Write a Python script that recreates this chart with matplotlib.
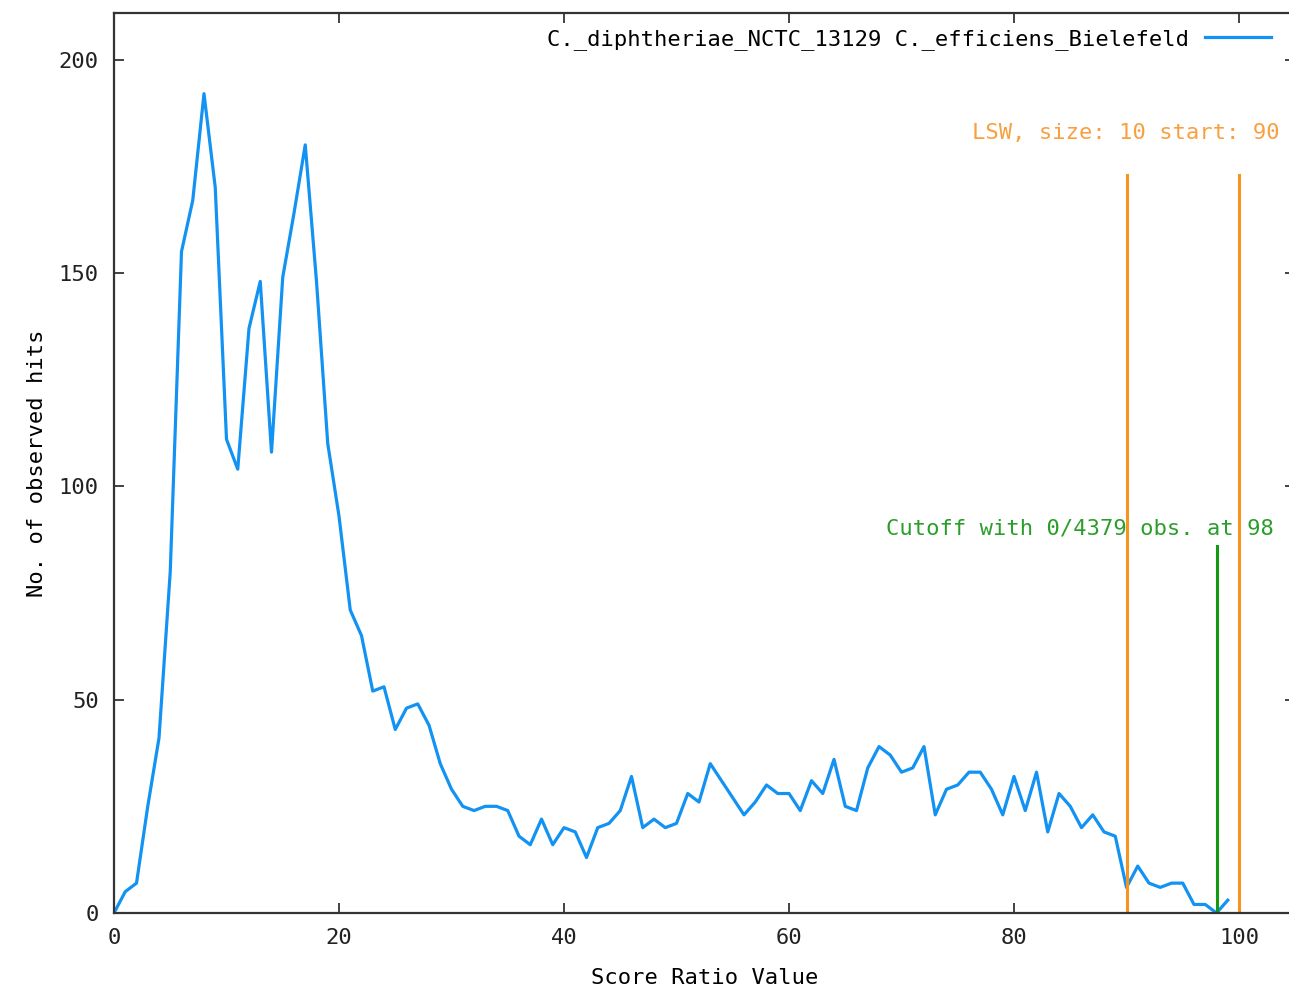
import numpy as np
import matplotlib
matplotlib.use('Agg')
import matplotlib.pyplot as plt

# Score ratio bins and observed hits
score_ratio = np.arange(0, 100)
hits = [
    0, 5, 7, 25, 41, 80, 155, 167, 192, 170,
    111, 104, 137, 148, 108, 149, 164, 180, 148, 110,
    93, 71, 65, 52, 53, 43, 48, 49, 44, 35,
    29, 25, 24, 25, 25, 24, 18, 16, 22, 16,
    20, 19, 13, 20, 21, 24, 32, 20, 22, 20,
    21, 28, 26, 35, 31, 27, 23, 26, 30, 28,
    28, 24, 31, 28, 36, 25, 24, 34, 39, 37,
    33, 34, 39, 23, 29, 30, 33, 33, 29, 23,
    32, 24, 33, 19, 28, 25, 20, 23, 19, 18,
    6, 11, 7, 6, 7, 7, 2, 2, 0, 3,
]

series_label = 'C._diphtheriae_NCTC_13129 C._efficiens_Bielefeld'

# LSW window and cutoff
lsw_start = 90
lsw_size = 10
lsw_height = 173
cutoff_at = 98
cutoff_obs = '0/4379'
cutoff_height = 86

xticks = [0, 20, 40, 60, 80, 100]
yticks = [0, 50, 100, 150, 200]

fs = 15.9
plt.rcParams['font.family'] = ['DejaVu Sans Mono']
plt.rcParams['font.size'] = fs

fig = plt.figure(figsize=(12.89, 9.89), dpi=100)
ax = fig.add_axes([114 / 1289, 76 / 989, 1181.25 / 1289, 900 / 989])

blue = '#1292f2'
orange = '#f7931e'
green = '#139a13'

ax.plot(score_ratio, hits, color=blue, linewidth=2.3, label=series_label)

# LSW borders
ax.plot([lsw_start, lsw_start], [0, lsw_height], color=orange, linewidth=2.2)
ax.plot([lsw_start + lsw_size, lsw_start + lsw_size], [0, lsw_height],
        color=orange, linewidth=2.2)
ax.text(lsw_start + lsw_size + 3.6, 182.8, f'LSW, size: {lsw_size} start: {lsw_start}',
        color='#f8a040', ha='right', va='center', fontsize=fs)

# cutoff line
ax.plot([cutoff_at, cutoff_at], [0, cutoff_height], color=green, linewidth=2.2)
ax.text(lsw_start + lsw_size + 3.1, 90, f'Cutoff with {cutoff_obs} obs. at {cutoff_at}',
        color='#2a9e2a', ha='right', va='center', fontsize=fs)

ax.set_xlim(0, 105)
ax.set_ylim(0, 210.9)
ax.set_xticks(xticks)
ax.set_yticks(yticks)
ax.tick_params(direction='in', length=7, width=1.2, top=True, right=True,
               labelsize=fs, pad=11, colors='#222222')
for s in ax.spines.values():
    s.set_linewidth(1.6)
    s.set_color('#333333')

ax.set_xlabel('Score Ratio Value', fontsize=fs, labelpad=14)
ax.set_ylabel('No. of observed hits', fontsize=fs, labelpad=8)

leg = ax.legend(loc='upper right', bbox_to_anchor=(1280 / 1289, 1 - 20 / 989),
                bbox_transform=fig.transFigure, frameon=False, markerfirst=False,
                handlelength=3.0, handletextpad=0.7, borderaxespad=0, fontsize=fs)

fig.savefig('out.png', dpi=100)
